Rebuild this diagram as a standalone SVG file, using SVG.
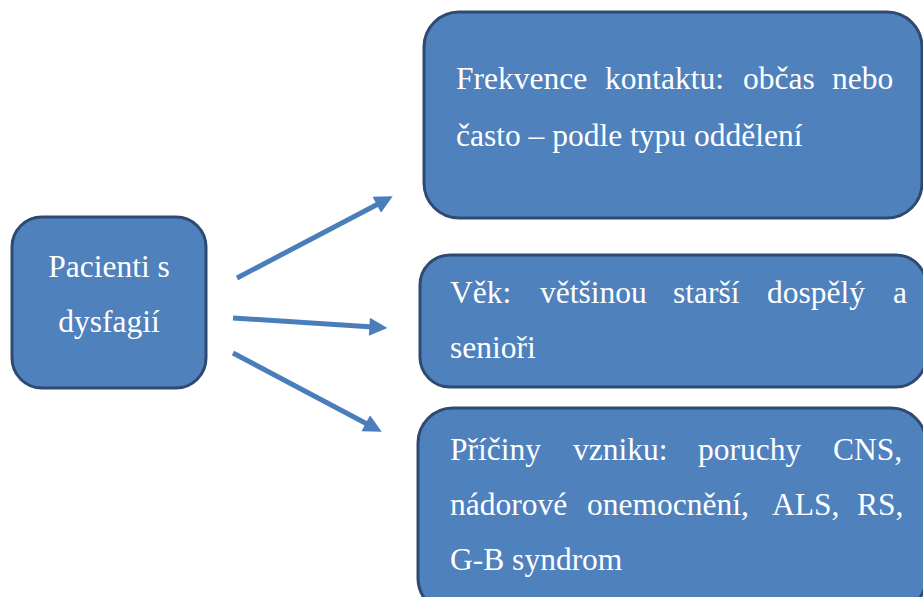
<svg xmlns="http://www.w3.org/2000/svg" width="923" height="597" viewBox="0 0 923 597">
<defs>
<style>
.box{fill:#4F81BD;stroke:#2E4A70;stroke-width:3}
.t{font-family:"Liberation Serif","Times New Roman",serif;font-size:31.5px;fill:#FFFFFF}
.c{stroke:#4A7EBB;stroke-width:5;fill:none}
</style>
<marker id="ah" viewBox="0 0 10 10" refX="2" refY="5" markerWidth="4" markerHeight="3.6" markerUnits="strokeWidth" orient="auto">
<path d="M0,0 L10,5 L0,10 z" fill="#4A7EBB"/>
</marker>
</defs>
<rect width="923" height="597" fill="#FFFFFF"/>
<g id="connectors">
<line class="c" x1="237" y1="278" x2="380" y2="203" marker-end="url(#ah)"/>
<line class="c" x1="233" y1="318" x2="373" y2="327" marker-end="url(#ah)"/>
<line class="c" x1="233" y1="353" x2="369" y2="425" marker-end="url(#ah)"/>
</g>
<g id="node-pacienti">
<rect class="box" x="12" y="217" width="194" height="171" rx="30"/>
<text class="t" x="109" y="277" text-anchor="middle">Pacienti s</text>
<text class="t" x="109" y="332" text-anchor="middle">dysfagií</text>
</g>
<g id="node-frekvence">
<rect class="box" x="424" y="12" width="498" height="206" rx="35"/>
<text class="t" y="89"><tspan x="456">Frekvence</tspan><tspan x="605">kontaktu:</tspan><tspan x="743">občas</tspan><tspan x="832">nebo</tspan></text>
<text class="t" x="456" y="146">často – podle typu oddělení</text>
</g>
<g id="node-vek">
<rect class="box" x="420" y="255" width="506" height="132" rx="30"/>
<text class="t" y="303"><tspan x="450">Věk:</tspan><tspan x="540">většinou</tspan><tspan x="673">starší</tspan><tspan x="767">dospělý</tspan><tspan x="893">a</tspan></text>
<text class="t" x="450" y="358">senioři</text>
</g>
<g id="node-priciny">
<rect class="box" x="418" y="408" width="508" height="205" rx="35"/>
<text class="t" y="460"><tspan x="450">Příčiny</tspan><tspan x="573">vzniku:</tspan><tspan x="698">poruchy</tspan><tspan x="833">CNS,</tspan></text>
<text class="t" y="515"><tspan x="450">nádorové</tspan><tspan x="587">onemocnění,</tspan><tspan x="772">ALS,</tspan><tspan x="857">RS,</tspan></text>
<text class="t" x="450" y="570">G-B syndrom</text>
</g>
</svg>
